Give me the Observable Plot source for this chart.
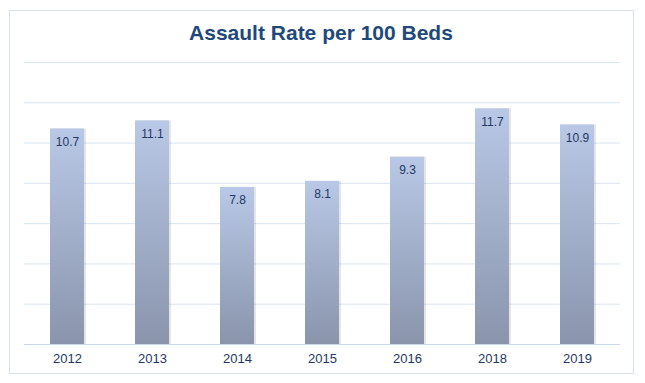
<!DOCTYPE html>
<html>
<head>
<meta charset="utf-8">
<script src="https://cdn.jsdelivr.net/npm/d3@7"></script>
<script src="https://cdn.jsdelivr.net/npm/@observablehq/plot@0.6"></script>
<style>
  html, body { margin: 0; padding: 0; background: #fff; }
  #wrap { position: relative; width: 645px; height: 383px; overflow: hidden; font-family: "Liberation Sans", Arial, sans-serif; }
  #frame { position: absolute; left: 9px; top: 10px; width: 625px; height: 364px; box-sizing: border-box; border: 1px solid #D5E3F1; pointer-events: none; }
  #title { margin: 0; padding-top: 21px; height: 24px; line-height: 24px; font-size: 21px; font-weight: bold; color: #1F497D; text-align: center; width: 642px; }
  #chart svg { display: block; }
</style>
</head>
<body>
<div id="wrap">
  <div id="frame"></div>
  <div id="title">Assault Rate per 100 Beds</div>
  <div id="chart"></div>
</div>
<script>
const years = ["2012", "2013", "2014", "2015", "2016", "2018", "2019"];
const rates = [10.7, 11.1, 7.8, 8.1, 9.3, 11.7, 10.9];
const gridValues = [2, 4, 6, 8, 10, 12, 14];

const data = years.map((y, i) => ({year: y, rate: rates[i]}));

const chart = Plot.plot({
  width: 645,
  height: 338,
  marginTop: 17,
  marginBottom: 39,
  marginLeft: 24,
  marginRight: 25,
  style: {fontFamily: "'Liberation Sans', Arial, sans-serif", background: "transparent"},
  x: {domain: years, paddingInner: 0.6, paddingOuter: 0.3, label: null},
  y: {domain: [0, 14], axis: null},
  marks: [
    Plot.ruleY(gridValues, {stroke: "#D9E6F3", strokeWidth: 1}),
    Plot.barY(data, {x: "year", y: "rate", fill: "#000", fillOpacity: 0.1, dx: 2, dy: 0}),
    Plot.barY(data, {x: "year", y: "rate", fill: "url(#barGrad)"}),
    Plot.ruleY([0], {stroke: "#C9DAEC", strokeWidth: 1}),
    Plot.text(data, {x: "year", y: "rate", text: d => d.rate.toFixed(1), dy: 13, fill: "#1F3864", fontSize: 12}),
    Plot.axisX({tickSize: 0, tickPadding: 9, fontSize: 13, color: "#1F3864", label: null})
  ]
});

const ns = "http://www.w3.org/2000/svg";
const defs = document.createElementNS(ns, "defs");
const grad = document.createElementNS(ns, "linearGradient");
grad.setAttribute("id", "barGrad");
grad.setAttribute("x1", "0"); grad.setAttribute("y1", "0");
grad.setAttribute("x2", "0"); grad.setAttribute("y2", "1");
[["0%", "#B8C8E6"], ["100%", "#8A95AC"]].forEach(([o, c]) => {
  const s = document.createElementNS(ns, "stop");
  s.setAttribute("offset", o);
  s.setAttribute("stop-color", c);
  grad.appendChild(s);
});
defs.appendChild(grad);
chart.insertBefore(defs, chart.firstChild);

document.getElementById("chart").appendChild(chart);
</script>
</body>
</html>
